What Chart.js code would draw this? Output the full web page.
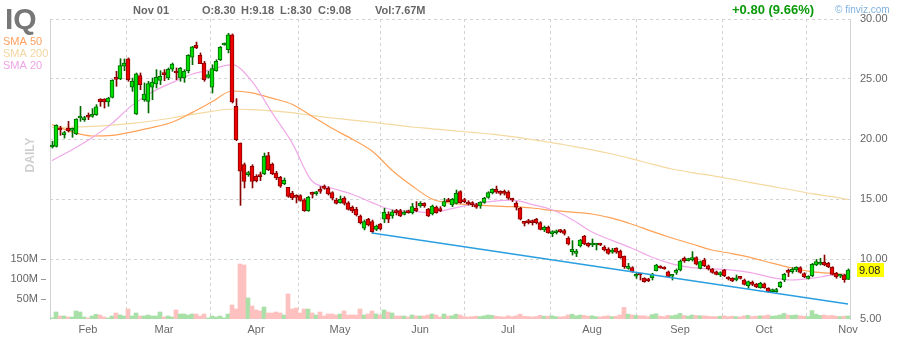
<!DOCTYPE html>
<html><head><meta charset="utf-8">
<script src="https://cdn.jsdelivr.net/npm/chart.js@4"></script>
<style>html,body{margin:0;padding:0;background:#fff}canvas{display:block}</style>
</head><body>
<canvas id="c" width="900" height="340"></canvas>
<script>
const ticker = 'IQ';
const monthTickIndex = [9,28,51,72,92,114,135,157,178,199];
const monthLabels = ['Feb','Mar','Apr','May','Jun','Jul','Aug','Sep','Oct','Nov'];
const priceTicks = [5,10,15,20,25,30];
const volumeTicks = [50e6,100e6,150e6];
const headerDate = 'Nov 01';
const headerVol = '7.67M';
const changeText = '+0.80 (9.66%)';

const openP = [19.33,19.39,20.83,20.36,20.92,20.72,20.42,21.75,21.61,21.92,
21.89,22.03,23.33,23.33,23.08,23.47,25.08,25.00,26.06,26.69,
24.31,22.08,25.28,23.28,23.14,24.31,24.58,24.89,25.47,25.08,
25.81,25.61,25.08,25.08,25.69,26.81,27.81,26.97,26.33,25.14,
24.31,25.69,26.61,27.83,27.44,28.69,22.72,19.67,17.86,17.03,
17.72,16.89,16.97,17.11,18.61,17.92,17.17,16.81,16.28,15.97,
15.50,15.31,15.28,14.94,14.03,15.50,15.44,15.75,16.08,15.89,
15.53,14.92,14.69,15.06,14.69,14.31,14.14,13.58,12.56,13.31,
13.11,12.47,12.92,13.31,13.75,13.58,13.97,14.03,13.72,13.97,
13.86,14.22,14.42,14.64,14.14,13.75,14.31,14.14,14.42,14.89,
14.50,14.64,15.61,14.92,14.75,14.69,14.53,14.42,14.72,15.14,
15.53,15.81,15.58,15.61,15.58,15.03,14.64,14.22,13.08,13.19,
13.19,13.31,13.03,12.42,12.64,12.08,12.19,12.39,12.36,11.72,
10.61,10.47,11.08,11.92,11.30,11.17,11.17,11.28,11.00,10.83,
10.56,10.89,10.67,10.25,9.22,9.28,8.56,8.78,8.39,8.31,
8.44,9.03,9.36,9.28,8.94,8.56,8.89,9.08,10.06,9.86,
9.92,10.11,9.22,9.92,9.44,9.17,8.94,8.67,9.08,8.44,
8.39,8.25,8.50,8.25,7.78,8.06,7.92,7.61,7.94,7.56,
7.28,7.28,7.69,8.25,9.03,8.94,9.08,9.28,8.78,8.39,
8.61,9.50,9.56,9.72,9.64,9.31,8.81,8.56,8.67,8.30];

const highP = [19.81,21.19,21.06,20.64,21.47,20.92,21.69,22.72,21.89,22.17,
22.53,22.86,23.36,23.36,23.47,24.94,25.64,26.69,26.67,26.75,
25.08,25.50,25.50,24.67,24.81,25.08,25.78,25.69,25.78,25.92,
26.33,25.92,25.97,25.78,27.03,27.72,28.08,27.17,26.47,25.64,
26.19,26.61,27.72,28.00,28.81,28.75,23.36,19.67,18.00,17.31,
17.86,17.03,17.25,18.83,18.89,18.00,17.31,16.89,16.75,15.97,
15.64,15.36,15.36,15.03,15.22,15.58,15.64,16.03,16.17,16.03,
15.61,15.06,15.25,15.19,14.78,14.42,14.31,13.67,13.25,13.39,
13.25,12.83,12.97,14.22,13.94,14.08,14.14,14.14,14.03,14.08,
14.64,14.78,14.78,14.69,14.22,14.50,14.42,14.36,15.06,15.06,
15.06,15.75,15.69,15.06,14.86,14.78,14.64,14.78,15.14,15.61,
15.86,16.08,15.69,15.75,15.69,15.06,14.78,14.31,13.11,13.31,
13.25,13.39,13.11,12.75,12.75,12.36,12.42,12.47,12.47,11.86,
11.53,10.80,11.64,11.97,11.36,11.67,11.31,11.31,11.11,10.94,
10.89,10.94,10.75,10.25,9.64,9.36,8.81,8.81,8.44,8.39,
8.81,9.56,9.44,9.36,9.00,8.72,9.17,9.92,10.17,10.06,
10.61,10.19,9.83,10.06,9.50,9.22,9.00,8.94,9.14,8.53,
8.44,8.67,8.53,8.33,8.17,8.17,7.97,8.06,8.00,7.61,
7.50,7.56,8.11,8.81,9.17,9.28,9.36,9.36,8.86,8.61,
9.64,9.97,10.06,10.33,9.72,9.36,8.89,8.72,8.72,9.18];

const lowP = [19.25,19.33,20.31,20.08,20.58,20.14,20.36,21.47,21.47,21.61,
21.81,21.97,22.72,22.58,22.72,23.42,24.39,24.94,25.69,24.81,
23.97,22.03,24.11,23.14,22.17,23.28,24.25,24.53,24.86,24.94,
25.64,24.94,24.81,24.72,25.50,26.19,27.53,26.28,24.81,25.08,
23.83,25.64,26.53,27.81,27.17,23.00,19.86,14.47,15.92,16.89,
15.92,16.42,16.53,17.03,17.36,17.03,16.61,15.97,16.19,15.14,
14.94,14.67,14.81,13.97,13.97,15.08,15.31,15.47,15.81,15.33,
14.92,14.58,14.64,14.50,14.08,13.86,13.58,12.92,12.42,12.75,
12.14,12.36,12.42,13.03,13.03,13.39,13.67,13.53,13.67,13.81,
13.75,13.94,14.31,14.31,13.53,13.67,13.81,13.94,14.36,14.78,
14.36,14.58,14.64,14.69,14.50,14.36,14.22,14.22,14.64,15.06,
15.42,15.47,15.33,15.33,14.97,14.78,14.08,13.25,12.75,12.92,
12.83,12.92,12.42,12.28,12.14,11.86,12.08,12.19,12.00,11.17,
10.33,10.20,11.00,11.19,11.00,11.03,10.75,11.11,10.67,10.39,
10.47,10.47,10.06,9.22,9.14,8.89,8.39,8.25,8.06,8.11,
8.25,9.00,9.22,9.14,8.44,8.25,8.72,9.00,9.72,9.83,
9.83,9.50,9.17,9.36,9.08,8.81,8.67,8.53,8.53,8.25,
8.11,8.17,8.33,7.83,7.56,7.78,7.61,7.56,7.56,7.19,
7.22,7.22,7.61,8.11,8.53,8.81,8.94,8.81,8.44,8.33,
8.53,9.44,9.50,9.44,9.28,8.67,8.39,8.44,8.06,8.30];

const closeP = [19.44,21.14,20.75,20.50,20.69,20.83,21.67,21.86,21.78,21.81,
22.06,22.69,23.08,23.08,23.42,24.89,24.97,26.11,26.33,24.94,
24.81,25.44,24.53,23.75,24.61,24.75,25.14,25.22,25.36,25.81,
26.25,25.50,25.89,25.64,26.97,27.69,27.58,26.28,24.94,25.36,
25.86,26.47,27.64,27.94,28.69,23.08,19.94,17.31,16.47,17.17,
16.47,16.53,16.86,18.56,17.44,17.08,16.75,16.06,16.56,15.22,
15.08,15.14,14.89,14.03,15.14,15.39,15.56,15.64,15.89,15.42,
15.06,14.64,14.97,14.64,14.14,14.03,13.67,13.03,13.11,12.83,
12.28,12.75,12.50,13.89,13.31,13.94,13.86,13.58,13.89,13.86,
14.36,14.03,14.64,14.44,13.58,14.42,13.86,14.03,14.78,14.78,
14.97,15.47,14.69,14.78,14.58,14.53,14.31,14.72,15.06,15.53,
15.81,15.56,15.47,15.47,15.06,14.92,14.31,13.31,12.97,13.03,
13.03,13.03,12.47,12.64,12.19,12.28,12.33,12.28,12.14,11.25,
10.81,10.67,11.58,11.25,11.08,11.31,11.28,11.17,10.75,10.47,
10.75,10.56,10.11,9.36,9.36,8.94,8.67,8.67,8.11,8.19,
8.75,9.50,9.25,9.17,8.53,8.67,9.00,9.83,9.83,9.97,
10.11,9.56,9.78,9.44,9.17,8.89,8.72,8.86,8.61,8.33,
8.17,8.44,8.39,7.89,8.11,7.89,7.67,7.97,7.61,7.28,
7.42,7.42,8.06,8.72,8.89,9.14,9.31,8.89,8.53,8.50,
9.56,9.78,9.72,9.50,9.36,8.72,8.53,8.67,8.28,9.08];

const volumeM = [3,17.5,7.5,7.5,5,5,20,17.5,5,2.5,
7.5,11.7,10,5,2.5,7.5,15,10,7.5,25,
7.5,15,7.5,7.5,10,7.5,7.5,17.5,5,7.5,
5,22.5,12.5,12.5,10,12.5,12.5,7.5,12.5,2.5,
7.5,5,7.5,3,12.5,35,25,137.5,135,52.5,
32.5,22.5,20,30,15,15,17.5,15,10,62.5,
25,27.5,15,25,25,15,10,17.5,7.5,12.5,
12.5,10,12.5,20,10,10,10,25,10,12.5,
20,12.5,10,22.5,17.5,15,7.5,7.5,7.5,5,
10,7.5,7.5,7.5,10,12.5,10,5,12.5,7.5,
8,12,10,6,5,6,7,6,8,10,
9,7,6,5,8,6,8,12,7,6,
5,6,9,7,7,8,6,5,6,10,
12,8,10,9,7,8,6,5,7,8,
6,7,10,29,12,10,9,8,8,6,
11,13,7,6,9,8,10,14,9,7,
10,9,8,8,7,6,6,7,8,6,
7,6,5,8,9,6,7,8,8,10,
7,8,10,14,10,9,10,8,7,6,
21,12,9,10,8,9,7,6,7,7.67];

const smaIdx = [0,5,10,15,20,25,30,35,40,45,50,55,60,65,70,75,80,85,90,95,100,105,110,115,120,125,130,135,140,145,150,155,160,165,170,175,180,185,190,195,199];
const sma20 = [18.2,19.1,20.1,21.3,22.8,23.9,24.7,25.4,25.8,26.2,24.8,22.2,19.7,16.5,15.9,15.4,14.7,14.1,13.95,13.87,14.2,14.55,14.8,14.9,14.55,14.1,13.3,12.25,11.55,10.9,10.15,9.6,9.28,9.18,9.08,8.85,8.45,8.25,8.4,8.65,8.75];
const sma50 = [21.2,20.6,20.25,20.3,20.6,20.95,21.4,22.2,23.1,24.0,23.85,23.4,22.9,21.9,20.9,20.0,19.0,17.4,16.1,15.0,14.64,14.53,14.42,14.36,14.25,14.05,13.9,13.75,13.4,12.9,12.3,11.75,11.25,10.75,10.45,10.1,9.65,9.25,8.95,8.8,8.72];
const sma200 = [20.95,21.0,21.05,21.15,21.3,21.5,21.75,22.05,22.3,22.5,22.45,22.35,22.2,21.95,21.75,21.58,21.4,21.2,21.0,20.85,20.7,20.55,20.4,20.2,19.95,19.7,19.4,19.1,18.75,18.35,17.9,17.5,17.2,16.95,16.65,16.35,16.05,15.75,15.45,15.2,14.95];
const trendIdx = [80,199];
const trendVal = [12.17,6.25];

const FONT = '"Liberation Sans", Arial, sans-serif';
const n = closeP.length;
const isUp = i => closeP[i] >= openP[i];
const bodyFill = [], edge = [], volFill = [];
for (let i = 0; i < n; i++) {
  bodyFill.push(isUp(i) ? '#00dd00' : '#ee0000');
  edge.push(isUp(i) ? '#006a00' : '#8a0000');
  volFill.push(isUp(i) ? '#a8e0a8' : '#ffc0c0');
}
const wickData = closeP.map((c, i) => ({x: i, y: [lowP[i], highP[i]]}));
const bodyData = closeP.map((c, i) => ({x: i, y: [openP[i], c]}));
const volData = volumeM.map((v, i) => ({x: i, y: v * 1e6}));
const line = (vals) => smaIdx.map((k, j) => ({x: k, y: vals[j]}));

const gridColor = '#d2d2d2';
const overlay = {
  id: 'overlay',
  afterDraw(chart) {
    const ctx = chart.ctx;
    const yS = chart.scales.y, yv = chart.scales.yv;
    ctx.save();
    ctx.textAlign = 'left';
    ctx.textBaseline = 'alphabetic';
    ctx.font = 'bold 30px ' + FONT;
    ctx.fillStyle = '#777';
    ctx.fillText(ticker, 5, 29);
    ctx.font = '11px ' + FONT;
    ctx.fillStyle = '#ffa060'; ctx.fillText('SMA 50', 3, 45);
    ctx.fillStyle = '#f3d6a0'; ctx.fillText('SMA 200', 3, 57);
    ctx.fillStyle = '#eea4e4'; ctx.fillText('SMA 20', 3, 69);
    ctx.save();
    ctx.translate(34, 155); ctx.rotate(-Math.PI / 2);
    ctx.textAlign = 'center';
    ctx.font = 'bold 12px ' + FONT; ctx.fillStyle = '#cfcfcf';
    ctx.fillText('DAILY', 0, 0);
    ctx.restore();
    ctx.font = 'bold 11px ' + FONT; ctx.fillStyle = '#666';
    const last = n - 1;
    ctx.fillText(headerDate, 133, 14);
    ctx.fillText('O:' + openP[last].toFixed(2), 202, 14);
    ctx.fillText('H:' + highP[last].toFixed(2), 241, 14);
    ctx.fillText('L:' + lowP[last].toFixed(2), 280, 14);
    ctx.fillText('C:' + closeP[last].toFixed(2), 318, 14);
    ctx.fillText('Vol:' + headerVol, 375, 14);
    ctx.font = 'bold 13px ' + FONT; ctx.fillStyle = '#0a9a0a';
    ctx.fillText(changeText, 732, 14);
    ctx.font = '10px ' + FONT; ctx.fillStyle = '#7fb2e0';
    ctx.fillText('\u00a9 finviz.com', 835, 13);
    const py = yS.getPixelForValue(closeP[last]);
    ctx.fillStyle = '#ffff00'; ctx.fillRect(857, Math.round(py) - 7, 27, 14);
    ctx.fillStyle = '#222'; ctx.font = '11px ' + FONT; ctx.textBaseline = 'middle';
    ctx.fillText(closeP[last].toFixed(2), 859, Math.round(py) + 0.5);
    ctx.strokeStyle = '#999'; ctx.lineWidth = 1;
    volumeTicks.forEach(v => {
      const y = Math.round(yv.getPixelForValue(v)) + 0.5;
      ctx.beginPath(); ctx.moveTo(41, y); ctx.lineTo(46, y); ctx.stroke();
    });
    ctx.restore();
  }
};

Chart.defaults.font.family = FONT;
new Chart(document.getElementById('c'), {
  type: 'bar',
  data: {
    datasets: [
      {type: 'line', data: trendIdx.map((k, j) => ({x: k, y: trendVal[j]})), borderColor: '#2a9fe0', borderWidth: 1.6, pointRadius: 0, yAxisID: 'y', order: 0},
      {type: 'bar', data: bodyData, backgroundColor: bodyFill, borderColor: edge, borderWidth: 1, borderSkipped: false, barThickness: 4, minBarLength: 2, grouped: false, yAxisID: 'y', order: 1},
      {type: 'bar', data: wickData, backgroundColor: edge, borderWidth: 0, barThickness: 1, minBarLength: 1, grouped: false, xAxisID: 'xw', yAxisID: 'y', order: 2},
      {type: 'line', data: line(sma20), borderColor: '#f0a8e8', borderWidth: 1.2, pointRadius: 0, cubicInterpolationMode: 'monotone', yAxisID: 'y', order: 3},
      {type: 'line', data: line(sma50), borderColor: '#ffa258', borderWidth: 1.2, pointRadius: 0, cubicInterpolationMode: 'monotone', yAxisID: 'y', order: 4},
      {type: 'line', data: line(sma200), borderColor: '#f5d9a0', borderWidth: 1.2, pointRadius: 0, cubicInterpolationMode: 'monotone', yAxisID: 'y', order: 5},
      {type: 'bar', data: volData, backgroundColor: volFill, borderWidth: 0, barThickness: 4, grouped: false, yAxisID: 'yv', order: 6}
    ]
  },
  options: {
    responsive: false,
    animation: false,
    devicePixelRatio: 1,
    layout: {padding: {top: 19, left: 0, right: 0, bottom: 0}},
    plugins: {legend: {display: false}, tooltip: {enabled: false}},
    scales: {
      x: {
        type: 'linear', min: -0.5, max: 199.5, offset: false,
        afterBuildTicks: s => { s.ticks = monthTickIndex.map(v => ({value: v})); },
        afterFit: s => { s.height = 21; },
        ticks: {autoSkip: false, maxRotation: 0, padding: 4, color: '#6a6a6a', font: {size: 11},
          callback: v => monthLabels[monthTickIndex.indexOf(v)]},
        grid: {display: true, color: gridColor, drawTicks: false},
        border: {display: false, dash: [3, 3]}
      },
      xw: {
        type: 'linear', display: false, min: -0.625, max: 199.375, offset: false
      },
      y: {
        position: 'right', min: 5, max: 30,
        afterBuildTicks: s => { s.ticks = priceTicks.map(v => ({value: v})); },
        afterFit: s => { s.width = 50; },
        ticks: {padding: 10, color: '#666', font: {size: 11}, callback: v => Number(v).toFixed(2)},
        grid: {color: c => (c.tick && c.tick.value === 5) ? 'rgba(0,0,0,0)' : gridColor, drawTicks: false},
        border: {display: true, color: gridColor, dash: [3, 3]}
      },
      yv: {
        position: 'left', min: 0, max: 750e6,
        afterBuildTicks: s => { s.ticks = volumeTicks.map(v => ({value: v})); },
        afterFit: s => { s.width = 50; },
        ticks: {padding: 4, color: '#666', font: {size: 11}, callback: v => (v / 1e6) + 'M'},
        grid: {display: false},
        border: {display: true, color: gridColor, dash: [3, 3]}
      }
    }
  },
  plugins: [overlay]
});
</script>
</body></html>
